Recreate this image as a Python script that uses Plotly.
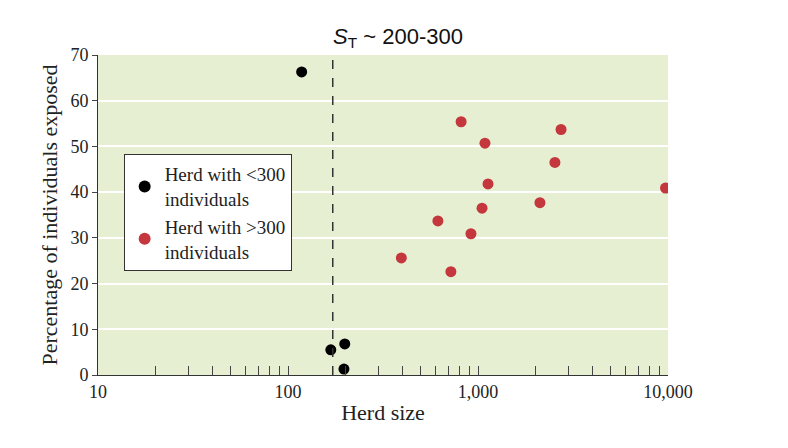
import plotly.graph_objects as go

small_x = [118, 168, 199, 197]
small_y = [66.3, 5.5, 6.8, 1.3]
large_x = [815, 1088, 2735, 2540, 1129, 1050, 615, 918, 9700, 395, 720, 2118]
large_y = [55.4, 50.7, 53.7, 46.5, 41.8, 36.5, 33.7, 30.9, 40.9, 25.6, 22.6, 37.7]
threshold = 172
minor_vals = [m * d for d in (10, 100, 1000) for m in range(2, 10)]

fig = go.Figure()
fig.add_trace(go.Scatter(x=small_x, y=small_y, mode="markers",
    marker=dict(color="black", size=11), name="Herd with <300<br>individuals"))
fig.add_trace(go.Scatter(x=large_x, y=large_y, mode="markers",
    marker=dict(color="#c4373d", size=11), name="Herd with >300<br>individuals"))
fig.add_shape(type="line", x0=threshold, x1=threshold, y0=0, y1=1, yref="paper",
    line=dict(color="#333", dash="dash", width=1.5))
fig.update_layout(
    width=788, height=448, paper_bgcolor="white", plot_bgcolor="#e7efd2",
    margin=dict(l=90, r=128, t=47, b=81),
    font=dict(family="Liberation Serif", size=18, color="#222"),
    title=dict(text="<i>S</i><sub>T</sub> ~ 200-300", x=0.495, xanchor="center", y=0.955,
               font=dict(family="Liberation Sans", size=22, color="#111")),
    xaxis=dict(type="log", range=[1, 4], tickvals=[10, 100, 1000, 10000],
               ticktext=["10", "100", "1,000", "10,000"], ticks="inside", ticklen=9,
               showline=True, linecolor="#333", showgrid=False,
               minor=dict(tickvals=minor_vals, ticks="inside", ticklen=9, showgrid=False),
               title=dict(text="Herd size", standoff=4)),
    yaxis=dict(range=[0, 70], dtick=10, ticks="outside", ticklen=5, showline=True,
               linecolor="#333", gridcolor="white", gridwidth=1.5, zeroline=False,
               title=dict(text="Percentage of individuals exposed", standoff=6)),
    legend=dict(x=0.045, y=0.69, xanchor="left", yanchor="top", bgcolor="white",
                bordercolor="#333", borderwidth=1, font=dict(size=19), itemsizing="constant"),
)
fig.write_html("out.html")
